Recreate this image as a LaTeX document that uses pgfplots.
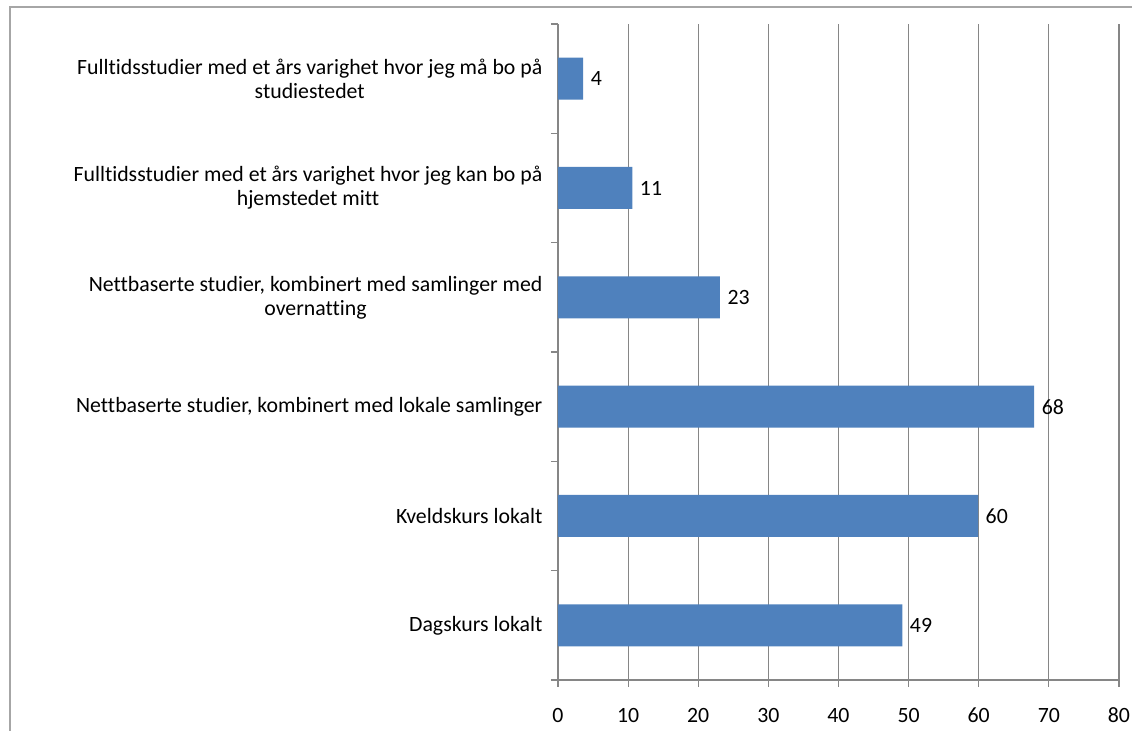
\documentclass[border=0pt]{standalone}
\usepackage{fontspec}
\setmainfont{Carlito}[Ligatures={NoCommon}]
\usepackage{pgfplots}
\pgfplotsset{compat=1.18}
\definecolor{barblue}{HTML}{4F81BD}
\definecolor{axgray}{HTML}{868686}
\begin{document}
\fontsize{10.9}{12}\selectfont
\begin{tikzpicture}
\useasboundingbox (0,0) rectangle (566pt,-365.5pt);
\draw[color=black!35, line width=0.7pt] (5pt,-365.5pt) -- (5pt,-3.5pt) -- (566pt,-3.5pt);
\begin{axis}[
  at={(279pt,-340pt)}, anchor=south west,
  scale only axis, width=280.5pt, height=328pt,
  xbar, bar width=21pt,
  xmin=0, xmax=80, ymin=-0.5, ymax=5.5,
  axis x line=bottom, axis y line=left,
  axis line style={-, draw=axgray, line width=0.7pt},
  tick align=outside, major tick length=3.5pt,
  tick style={draw=axgray, line width=0.6pt},
  xtick={0,10,...,80}, xmajorgrids,
  grid style={draw=axgray, line width=0.6pt},
  ytick={-0.5,0.5,...,5.5}, yticklabels={},
  extra y ticks={0,1,2,3,4,5},
  extra y tick style={tick style={draw=none}},
  extra y tick labels={{Dagskurs lokalt},{Kveldskurs lokalt},{Nettbaserte studier, kombinert med lokale samlinger},{Nettbaserte studier, kombinert med samlinger med\\overnatting},{Fulltidsstudier med et års varighet hvor jeg kan bo på\\hjemstedet mitt},{Fulltidsstudier med et års varighet hvor jeg må bo på\\studiestedet}},
  yticklabel style={align=center, anchor=east, xshift=-0.5pt, font=\fontsize{10.9}{12}\selectfont, text=black},
  xticklabel style={yshift=-6.7pt, text height=7pt, text depth=0pt, font=\fontsize{10.9}{12}\selectfont, text=black},
  /pgf/number format/assume math mode=true,
  point meta=x,
  nodes near coords={\pgfmathprintnumber[fixed,precision=0,assume math mode=true]{\pgfplotspointmeta}},
  every node near coord/.append style={font=\fontsize{10.9}{12}\selectfont, text=black, anchor=west},
  clip=false,
]
\addplot[fill=barblue, draw=none] coordinates {
  (49.1,0) (59.9,1) (67.9,2) (23.1,3) (10.6,4) (3.6,5)
};
\end{axis}
\end{tikzpicture}
\end{document}
